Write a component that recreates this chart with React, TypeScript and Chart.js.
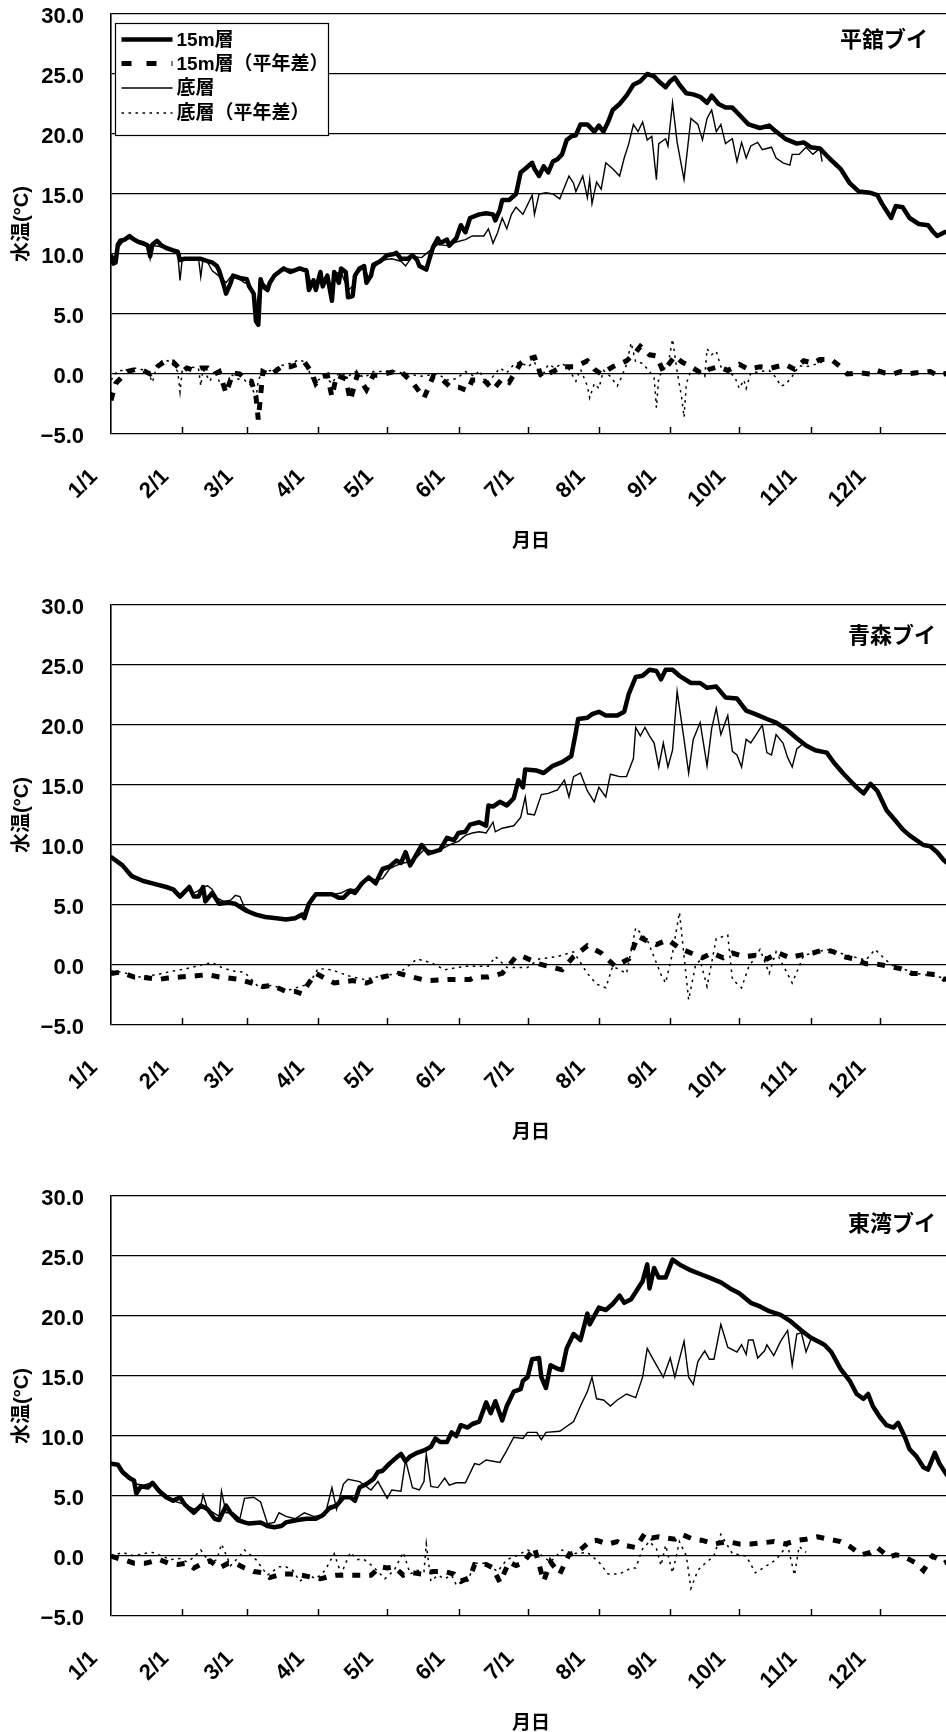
import React, { useEffect, useRef } from "react";
import { Chart, registerables } from "chart.js";

Chart.register(...registerables);

// ---------- axis / label data ----------
const MONTH_STARTS = [0, 31, 59, 90, 120, 151, 181, 212, 243, 273, 304, 334];
const MONTH_LABELS = ["1/1", "2/1", "3/1", "4/1", "5/1", "6/1", "7/1", "8/1", "9/1", "10/1", "11/1", "12/1"];
const Y_TICKS = [-5, 0, 5, 10, 15, 20, 25, 30];
const SERIES_LABELS = ["15m層", "15m層（平年差）", "底層", "底層（平年差）"];
const X_TITLE = "月日";
const Y_TITLE = "水温(°C)";
const STATION_NAMES = ["平舘ブイ", "青森ブイ", "東湾ブイ"];

// ---------- 平舘ブイ ----------
const HIRADATE_15M: [number, number][] = [
  [0, 9.8], [1, 9.2], [2, 9.3], [3, 10.8], [4, 11.1], [6, 11.2], [8, 11.5], [10, 11.2], [12, 11.0], [14, 10.9],
  [16, 10.7], [17, 9.8], [18, 10.8], [20, 11.1], [22, 10.7], [24, 10.5], [27, 10.3], [29, 10.2], [30, 9.5], [32, 9.6],
  [34, 9.6], [39, 9.6], [42, 9.4], [44, 9.3], [46, 9.0], [47, 8.6], [49, 7.4], [50, 6.7], [52, 7.6], [53, 8.2],
  [56, 8.0], [59, 7.9], [60, 7.3], [62, 6.7], [63, 4.4], [64, 4.1], [65, 7.9], [66, 7.3], [68, 7.0], [69, 7.6],
  [71, 8.2], [73, 8.5], [75, 8.8], [78, 8.5], [82, 8.8], [85, 8.6], [86, 7.0], [88, 7.8], [89, 7.0], [91, 8.5],
  [92, 7.3], [94, 8.2], [96, 6.1], [97, 8.5], [99, 7.6], [100, 8.8], [102, 8.5], [103, 6.4], [105, 6.5], [106, 8.2],
  [108, 8.8], [110, 9.0], [111, 7.6], [113, 8.2], [114, 9.1], [117, 9.4], [120, 9.9], [123, 10.0], [124, 10.1], [126, 9.6],
  [129, 9.6], [131, 9.9], [133, 9.5], [134, 9.0], [137, 8.7], [139, 10.0], [140, 10.6], [142, 11.3], [143, 10.9], [146, 11.2],
  [147, 10.7], [150, 11.3], [152, 12.4], [154, 11.8], [156, 13.0], [160, 13.3], [163, 13.4], [166, 13.3], [167, 12.8], [169, 13.7],
  [170, 14.5], [173, 14.5], [176, 15.0], [178, 16.8], [180, 17.1], [183, 17.6], [184, 17.1], [186, 16.5], [188, 17.3], [190, 16.8],
  [192, 17.7], [194, 17.9], [196, 18.3], [198, 19.5], [200, 19.8], [202, 19.9], [204, 20.8], [207, 20.8], [210, 20.2], [212, 20.7],
  [214, 20.2], [216, 21.0], [218, 22.0], [221, 22.5], [224, 23.2], [227, 24.1], [230, 24.4], [233, 25.0], [236, 24.8], [238, 24.4],
  [241, 23.9], [243, 24.4], [245, 24.7], [247, 24.1], [250, 23.4], [253, 23.3], [256, 23.1], [259, 22.6], [261, 23.2], [264, 22.5],
  [267, 22.2], [270, 22.2], [273, 21.6], [277, 20.8], [282, 20.5], [286, 20.7], [289, 20.2], [293, 19.6], [298, 19.2], [301, 19.3],
  [304, 18.9], [308, 18.8], [312, 18.0], [317, 17.1], [321, 15.9], [325, 15.2], [330, 15.1], [333, 14.9], [335, 14.2], [339, 13.0],
  [341, 14.0], [344, 13.9], [347, 13.0], [351, 12.5], [355, 12.4], [357, 11.9], [359, 11.5], [362, 11.8], [364, 11.9],
];
const HIRADATE_BOTTOM: [number, number][] = [
  [0, 10.0], [2, 9.6], [3, 10.5], [5, 11.0], [8, 11.3], [12, 10.9], [16, 10.6], [17, 9.6], [18, 10.7], [22, 10.6],
  [27, 10.3], [29, 10.0], [30, 7.8], [31, 9.7], [34, 9.7], [38, 9.7], [39, 8.1], [40, 9.6], [42, 9.3], [44, 8.6],
  [46, 8.3], [48, 8.0], [50, 7.6], [52, 8.1], [55, 8.0], [58, 7.6], [60, 7.6], [62, 6.8], [63, 5.5], [64, 6.5],
  [65, 7.8], [68, 7.2], [71, 8.3], [75, 8.8], [80, 8.7], [85, 8.8], [87, 7.5], [89, 7.4], [92, 7.8], [94, 8.3],
  [96, 7.0], [98, 8.4], [100, 8.5], [103, 7.0], [105, 7.3], [107, 8.4], [110, 8.9], [112, 8.0], [115, 9.0], [118, 9.5],
  [122, 9.6], [126, 9.4], [128, 9.0], [131, 9.8], [135, 9.7], [138, 10.2], [142, 10.8], [146, 10.7], [150, 11.0], [154, 11.2],
  [157, 11.5], [162, 11.5], [164, 12.1], [166, 10.9], [168, 11.8], [170, 13.0], [172, 12.1], [174, 13.3], [176, 13.9], [179, 13.3],
  [183, 14.9], [184, 13.3], [186, 15.0], [189, 15.1], [192, 15.0], [195, 14.6], [199, 16.5], [201, 15.9], [202, 15.2], [205, 16.5],
  [207, 14.7], [208, 16.2], [209, 14.2], [211, 16.0], [213, 15.4], [215, 17.6], [218, 17.1], [221, 16.5], [223, 18.0], [225, 19.2],
  [227, 20.8], [229, 20.2], [231, 21.0], [233, 19.5], [235, 19.8], [237, 16.2], [238, 19.2], [241, 19.6], [242, 19.0], [244, 22.6],
  [246, 19.3], [249, 16.2], [252, 21.3], [255, 20.8], [257, 19.5], [259, 21.3], [261, 22.0], [263, 20.2], [265, 20.8], [267, 19.2],
  [270, 19.6], [272, 17.7], [274, 19.3], [276, 18.0], [278, 19.0], [281, 19.3], [283, 18.7], [287, 18.9], [289, 18.0], [292, 17.6],
  [295, 17.4], [296, 18.3], [299, 18.3], [302, 18.9], [305, 18.3], [308, 18.8], [309, 17.7],
];
const HIRADATE_15M_ANOM: [number, number][] = [
  [0, -2.2], [2, -0.8], [4, -0.4], [7, 0.2], [11, 0.4], [14, 0.3], [17, 0.0], [20, 0.6], [23, 1.0], [27, 1.0],
  [31, 0.2], [33, 0.5], [36, 0.3], [39, 0.5], [42, 0.5], [45, 0.0], [47, 0.2], [50, -1.6], [53, 0.1], [56, 0.0],
  [59, -0.5], [61, -0.6], [63, -1.9], [64, -3.8], [66, 0.2], [69, -0.1], [74, 0.6], [78, 0.6], [84, 1.0], [87, 0.2],
  [89, -0.8], [92, -0.2], [94, -0.1], [96, -1.9], [98, -0.1], [102, -0.4], [104, -2.2], [107, -0.1], [111, -1.3], [114, -0.1],
  [117, -0.1], [123, 0.2], [126, 0.2], [131, -0.7], [136, -2.0], [140, -0.2], [143, -0.3], [147, -1.0], [151, -1.1], [155, -1.4],
  [157, -0.5], [162, -0.5], [166, -1.3], [170, -0.4], [173, -0.7], [178, 0.9], [180, 1.2], [184, 1.4], [187, -0.2], [192, 0.2],
  [196, 0.6], [201, 0.6], [204, 0.8], [207, 1.1], [210, 0.4], [213, 0.0], [218, 0.6], [224, 1.1], [228, 1.8], [230, 2.3],
  [234, 1.6], [237, 1.5], [240, 0.2], [245, 1.5], [248, 1.0], [252, 0.6], [257, 0.0], [260, 0.4], [264, 0.6], [268, 0.3],
  [273, 0.8], [277, 0.4], [282, 0.6], [287, 0.5], [293, 0.8], [297, 0.4], [301, 1.1], [305, 0.9], [308, 1.2], [313, 1.2],
  [317, 0.6], [320, 0.0], [325, 0.1], [330, 0.0], [333, 0.3], [336, 0.1], [340, 0.0], [343, 0.2], [346, 0.0], [350, 0.1],
  [356, 0.2], [359, -0.1], [362, 0.0], [364, 0.1],
];
const HIRADATE_BOTTOM_ANOM: [number, number][] = [
  [0, -0.5], [3, 0.3], [7, 0.3], [11, 0.5], [16, 0.2], [18, -0.7], [20, 0.8], [23, 1.2], [26, 1.0], [29, 0.2],
  [30, -1.5], [31, 0.4], [34, 0.6], [38, 0.5], [39, -1.0], [40, 0.4], [43, -0.6], [45, 0.3], [47, -0.6], [50, -1.2],
  [52, 0.0], [55, -0.4], [58, -0.5], [61, -1.0], [63, -2.0], [64, -0.5], [66, 0.2], [70, 0.3], [74, 0.7], [78, 0.9],
  [82, 1.2], [85, 0.9], [87, -0.3], [90, -0.5], [93, -0.2], [96, -0.8], [99, 0.1], [103, -0.2], [106, 0.2], [110, -0.3],
  [114, 0.2], [118, 0.2], [122, 0.3], [126, 0.1], [130, 0.0], [134, -0.2], [138, -0.1], [142, 0.0], [146, -0.5], [150, -0.4],
  [154, 0.2], [158, -0.2], [160, 0.3], [163, -0.8], [166, -0.2], [169, 0.5], [172, 0.1], [175, 0.8], [178, 1.0], [181, 0.6],
  [184, 1.0], [187, -0.3], [190, 0.8], [193, 0.5], [196, 0.9], [199, 0.4], [202, -0.6], [204, 0.4], [207, -1.0], [208, -2.0],
  [210, -0.8], [212, -1.2], [214, 0.3], [217, -0.2], [220, -1.0], [222, -0.2], [224, 0.8], [226, 2.6], [228, 1.0], [231, 0.9],
  [234, 0.2], [236, -0.3], [237, -2.8], [238, -0.3], [240, 0.4], [242, 0.7], [244, 2.9], [246, 0.2], [248, -2.0], [249, -3.6],
  [250, -0.8], [252, 0.3], [255, 0.3], [258, -0.2], [259, 2.1], [261, 1.6], [263, 1.9], [265, 0.6], [268, 0.2], [271, -0.2],
  [273, -1.2], [275, -0.5], [276, -1.2], [278, 0.1], [282, 0.2], [286, 0.3], [289, -0.3], [291, -1.0], [293, -0.9], [296, -0.2],
  [299, 0.7], [302, 0.6], [306, 0.8], [309, 1.0],
];

// ---------- 青森ブイ ----------
const AOMORI_15M: [number, number][] = [
  [0, 9.0], [5, 8.3], [9, 7.4], [14, 7.0], [18, 6.8], [24, 6.5], [27, 6.3], [30, 5.7], [34, 6.5], [36, 5.7],
  [38, 5.7], [40, 6.5], [41, 5.3], [44, 6.0], [47, 5.1], [51, 5.2], [54, 5.1], [59, 4.5], [63, 4.2], [67, 4.0],
  [72, 3.9], [76, 3.8], [80, 3.9], [83, 4.2], [84, 3.9], [86, 5.1], [89, 5.9], [92, 5.9], [96, 5.9], [99, 5.6],
  [101, 5.6], [104, 6.2], [106, 6.0], [109, 6.8], [112, 7.3], [115, 6.8], [118, 8.0], [121, 8.2], [124, 8.7], [126, 8.5],
  [128, 9.4], [130, 8.3], [133, 9.3], [135, 10.0], [138, 9.3], [143, 9.6], [146, 10.6], [149, 10.4], [151, 11.0], [154, 11.1],
  [156, 11.7], [160, 11.9], [163, 11.6], [164, 13.3], [166, 13.2], [169, 13.6], [172, 13.3], [175, 13.9], [177, 15.4], [179, 14.8],
  [180, 16.3], [185, 16.2], [188, 16.0], [192, 16.6], [196, 16.9], [200, 17.4], [202, 19.4], [203, 20.5], [207, 20.6], [209, 20.9],
  [212, 21.1], [215, 20.8], [220, 20.8], [223, 21.1], [225, 22.6], [228, 24.0], [231, 24.1], [234, 24.6], [237, 24.5], [239, 23.8],
  [241, 24.6], [244, 24.6], [247, 24.1], [252, 23.5], [256, 23.5], [259, 23.1], [263, 23.2], [267, 22.3], [272, 22.2], [276, 21.2],
  [280, 20.9], [285, 20.5], [289, 20.2], [293, 19.7], [298, 18.9], [302, 18.3], [306, 17.9], [311, 17.7], [314, 16.9], [318, 16.0],
  [321, 15.4], [324, 14.8], [327, 14.3], [330, 15.1], [333, 14.5], [337, 12.9], [341, 12.0], [344, 11.3], [347, 10.8], [353, 10.0],
  [356, 9.9], [359, 9.4], [362, 8.7], [364, 8.4],
];
const AOMORI_BOTTOM: [number, number][] = [
  [0, 9.0], [5, 8.3], [10, 7.4], [15, 7.0], [20, 6.7], [25, 6.4], [28, 6.3], [30, 5.8], [33, 6.3], [36, 6.0],
  [38, 6.2], [40, 6.5], [42, 6.6], [44, 6.3], [46, 5.6], [49, 5.3], [52, 5.4], [54, 5.8], [56, 5.7], [58, 4.8],
  [62, 4.3], [66, 4.1], [70, 3.9], [75, 3.9], [80, 3.9], [83, 4.0], [85, 4.9], [87, 5.6], [90, 6.0], [94, 5.9],
  [97, 5.9], [100, 6.0], [103, 6.3], [106, 6.3], [109, 6.7], [112, 7.2], [115, 7.1], [118, 7.2], [121, 8.0], [124, 8.3],
  [127, 8.5], [130, 8.6], [133, 9.0], [136, 9.6], [140, 9.5], [144, 9.7], [148, 10.1], [151, 10.3], [154, 10.8], [157, 11.0],
  [160, 11.1], [163, 11.0], [166, 11.9], [167, 11.1], [170, 11.4], [175, 11.6], [178, 12.3], [180, 14.0], [181, 12.6], [184, 12.5],
  [187, 14.2], [190, 14.3], [194, 14.6], [197, 15.4], [199, 14.0], [201, 15.7], [204, 16.0], [207, 14.5], [210, 13.6], [212, 14.8],
  [215, 14.0], [217, 15.9], [221, 15.7], [224, 15.7], [227, 17.2], [228, 19.8], [230, 19.1], [232, 19.8], [234, 19.1], [236, 18.5],
  [238, 16.5], [240, 18.5], [242, 16.5], [244, 17.9], [246, 22.8], [249, 18.8], [251, 16.0], [253, 18.8], [256, 20.2], [259, 16.6],
  [261, 19.7], [263, 21.4], [265, 19.2], [268, 20.8], [270, 17.8], [272, 17.5], [274, 16.5], [276, 18.8], [278, 18.5], [280, 19.1],
  [283, 20.0], [285, 17.7], [287, 17.5], [289, 19.2], [292, 18.5], [294, 17.3], [296, 16.5], [298, 18.0], [301, 18.5],
];
const AOMORI_15M_ANOM: [number, number][] = [
  [0, -0.7], [4, -0.6], [10, -1.0], [13, -1.0], [21, -1.2], [24, -1.1], [30, -1.0], [37, -0.9], [42, -0.8], [47, -1.0],
  [56, -1.2], [66, -1.8], [70, -1.7], [76, -2.2], [80, -2.2], [83, -2.4], [86, -1.5], [89, -0.7], [97, -1.5], [105, -1.3],
  [111, -1.5], [118, -1.0], [125, -0.7], [131, -1.0], [137, -1.3], [147, -1.2], [156, -1.2], [158, -1.0], [164, -1.0], [170, -0.7],
  [176, 0.7], [179, 0.7], [186, 0.1], [196, -0.4], [201, 0.7], [207, 1.6], [213, 1.0], [219, -0.1], [225, 0.5], [229, 2.4],
  [233, 2.0], [237, 1.7], [242, 2.1], [247, 1.4], [252, 1.0], [257, 0.6], [261, 1.0], [266, 0.6], [270, 1.0], [275, 0.7],
  [280, 0.8], [285, 0.5], [290, 1.0], [295, 0.6], [299, 0.8], [305, 1.0], [310, 1.3], [314, 1.1], [318, 0.7], [323, 0.5],
  [328, 0.1], [332, 0.1], [338, -0.1], [343, -0.3], [348, -0.7], [353, -0.7], [358, -0.8], [362, -1.2], [364, -1.1],
];
const AOMORI_BOTTOM_ANOM: [number, number][] = [
  [0, -0.5], [5, -0.6], [12, -1.0], [20, -0.8], [27, -0.5], [33, -0.3], [39, 0.0], [44, 0.2], [48, -0.2], [53, -0.5],
  [58, -0.6], [64, -1.8], [70, -1.7], [77, -2.1], [82, -1.8], [86, -1.6], [90, -0.3], [96, -0.4], [103, -0.9], [110, -1.2],
  [118, -0.9], [125, -0.7], [133, 0.5], [139, 0.2], [145, -0.4], [154, -0.1], [158, -0.1], [164, -0.1], [167, 0.7], [172, -0.2],
  [181, -0.2], [186, 0.5], [194, 0.7], [201, 1.1], [207, -0.7], [211, -1.6], [215, -1.9], [218, -0.1], [224, -0.7], [228, 3.1],
  [233, 2.1], [239, -0.8], [241, -1.5], [244, 1.0], [247, 4.4], [251, -2.9], [254, 0.0], [256, 0.4], [259, -1.8], [263, 2.2],
  [268, 2.5], [270, -1.2], [274, -1.9], [277, -0.2], [282, 1.3], [286, -0.7], [289, 1.1], [296, -1.5], [301, 0.8], [311, 1.3],
  [328, 0.4], [332, 1.3], [339, 0.0], [350, -0.7], [360, -1.0], [364, -1.2],
];

// ---------- 東湾ブイ ----------
const TOWAN_15M: [number, number][] = [
  [0, 7.7], [3, 7.6], [5, 7.0], [8, 6.5], [10, 6.3], [11, 5.2], [13, 5.8], [16, 5.7], [18, 6.1], [21, 5.4],
  [24, 4.9], [27, 4.6], [30, 4.9], [32, 4.3], [36, 3.6], [39, 4.2], [42, 3.9], [45, 3.1], [47, 3.0], [50, 4.2],
  [52, 3.6], [55, 3.0], [58, 2.8], [60, 2.7], [65, 2.8], [68, 2.5], [71, 2.4], [74, 2.5], [76, 2.8], [81, 3.0],
  [85, 3.1], [89, 3.1], [92, 3.4], [95, 4.0], [98, 4.2], [101, 4.9], [104, 4.9], [106, 4.6], [108, 5.7], [111, 6.0],
  [114, 6.4], [116, 7.0], [118, 7.1], [121, 7.7], [124, 8.2], [126, 8.5], [128, 7.9], [130, 8.3], [133, 8.6], [136, 8.8],
  [139, 9.1], [141, 9.8], [143, 9.5], [146, 9.5], [148, 10.3], [150, 10.0], [152, 10.9], [155, 10.7], [157, 11.0], [160, 11.2],
  [163, 12.8], [165, 11.9], [167, 12.9], [170, 11.3], [172, 12.5], [175, 13.7], [178, 13.9], [179, 14.6], [181, 14.9], [183, 16.4],
  [186, 16.5], [187, 14.9], [189, 14.0], [191, 15.9], [194, 15.6], [196, 15.5], [198, 17.3], [201, 18.5], [204, 18.0], [207, 20.2],
  [208, 19.3], [212, 20.7], [215, 20.5], [218, 21.0], [221, 21.7], [223, 21.1], [226, 21.4], [228, 22.0], [231, 22.9], [233, 24.3],
  [234, 22.3], [236, 24.0], [238, 23.2], [241, 23.2], [244, 24.7], [247, 24.3], [252, 23.8], [256, 23.5], [260, 23.2], [265, 22.8],
  [269, 22.3], [273, 21.9], [278, 21.1], [282, 20.8], [286, 20.4], [291, 20.1], [295, 19.6], [300, 18.8], [304, 18.2], [310, 17.6],
  [313, 17.0], [317, 15.6], [321, 14.6], [324, 13.5], [327, 13.1], [329, 13.5], [331, 12.5], [334, 11.6], [337, 10.9], [340, 10.7],
  [342, 11.1], [345, 9.9], [347, 8.9], [350, 8.3], [353, 7.4], [355, 7.2], [358, 8.6], [360, 7.7], [363, 6.8], [364, 6.6],
];
const TOWAN_BOTTOM: [number, number][] = [
  [0, 7.7], [3, 7.6], [5, 7.0], [8, 6.6], [11, 6.0], [14, 5.9], [18, 6.1], [22, 5.4], [27, 4.6], [32, 4.3],
  [36, 3.9], [39, 4.2], [40, 5.1], [42, 3.9], [47, 3.3], [48, 5.4], [50, 3.6], [53, 3.6], [56, 3.1], [58, 4.8],
  [62, 4.9], [65, 4.5], [68, 2.7], [71, 2.8], [73, 3.6], [76, 3.3], [80, 3.1], [84, 3.6], [88, 3.3], [93, 3.4],
  [96, 5.7], [98, 3.9], [101, 6.0], [103, 6.4], [108, 6.2], [113, 5.5], [116, 6.2], [120, 4.8], [122, 5.5], [126, 5.4],
  [128, 8.0], [131, 5.7], [134, 5.5], [136, 6.2], [137, 8.5], [139, 5.8], [142, 5.7], [145, 6.5], [147, 5.9], [150, 6.1],
  [154, 6.1], [157, 7.3], [158, 7.7], [160, 7.6], [163, 8.0], [169, 7.8], [172, 8.8], [175, 9.9], [179, 9.8], [181, 10.3],
  [185, 10.3], [187, 9.7], [189, 10.3], [195, 10.4], [201, 11.2], [204, 12.5], [207, 13.7], [209, 14.9], [211, 13.1], [214, 13.0],
  [217, 12.5], [220, 13.0], [224, 13.5], [228, 13.2], [231, 14.9], [233, 17.3], [235, 16.6], [237, 15.9], [240, 14.9], [243, 16.5],
  [245, 14.9], [249, 17.9], [251, 14.9], [253, 14.3], [255, 16.2], [258, 17.1], [260, 16.4], [262, 16.4], [265, 19.3], [268, 17.4],
  [272, 17.0], [274, 17.6], [276, 16.8], [277, 18.0], [279, 18.0], [281, 16.5], [284, 17.1], [285, 17.6], [288, 16.7], [291, 17.9],
  [294, 18.8], [296, 15.9], [298, 18.5], [300, 18.6], [302, 17.0], [304, 18.0],
];
const TOWAN_15M_ANOM: [number, number][] = [
  [0, 0.0], [3, -0.2], [7, -0.4], [10, -0.6], [15, -0.6], [21, -0.3], [25, -0.6], [29, -0.7], [33, -0.6], [36, -1.0],
  [40, -0.6], [43, -0.4], [47, -1.0], [51, -0.6], [55, -0.7], [58, -1.0], [62, -1.3], [66, -1.4], [69, -1.8], [74, -1.5],
  [78, -1.5], [83, -1.6], [88, -1.8], [91, -1.9], [95, -1.7], [98, -1.6], [103, -1.6], [107, -1.6], [113, -1.6], [117, -0.9],
  [120, -1.0], [123, -0.9], [127, -1.6], [131, -1.4], [135, -1.5], [140, -1.3], [145, -1.3], [149, -1.5], [152, -2.1], [156, -1.8],
  [158, -0.7], [163, -0.7], [166, -1.0], [169, -2.2], [173, -0.5], [176, -0.8], [179, -0.6], [184, 0.7], [188, -2.1], [191, -0.5],
  [195, -1.5], [199, 0.1], [203, 0.4], [205, 0.7], [208, 1.2], [211, 1.3], [216, 1.0], [220, 1.2], [223, 0.9], [228, 0.7],
  [232, 1.9], [235, 1.5], [238, 1.6], [241, 1.5], [245, 1.4], [248, 1.8], [253, 1.4], [257, 1.3], [262, 1.0], [268, 1.2],
  [273, 1.0], [278, 1.0], [283, 1.1], [288, 1.2], [293, 1.0], [298, 1.3], [302, 1.4], [307, 1.6], [312, 1.4], [317, 1.2],
  [321, 0.8], [326, 0.1], [330, 0.3], [333, 0.7], [338, -0.1], [341, 0.1], [344, 0.0], [347, -0.3], [350, -0.6], [353, -1.2],
  [357, 0.0], [360, -0.3], [362, -0.6], [364, -0.4],
];
const TOWAN_BOTTOM_ANOM: [number, number][] = [
  [0, 0.0], [5, 0.3], [10, 0.0], [14, 0.2], [18, 0.3], [22, 0.0], [26, -0.3], [30, -0.2], [33, -0.5], [36, -0.1],
  [39, 0.5], [43, -0.6], [46, -0.3], [48, 1.0], [52, -0.8], [55, -0.2], [58, 0.5], [63, -0.3], [68, -1.6], [73, -0.9],
  [76, -0.9], [79, -1.2], [82, -2.1], [86, -1.6], [89, -1.9], [93, -1.2], [97, 0.2], [100, -1.5], [104, 0.3], [107, -0.3],
  [110, -0.3], [114, -0.9], [119, -1.9], [123, -1.2], [127, 0.3], [130, -1.5], [133, -1.2], [136, -1.3], [137, 1.0], [139, -2.1],
  [142, -1.6], [145, -1.9], [148, -1.6], [150, -2.4], [155, -2.1], [158, -0.6], [163, -0.6], [168, -1.3], [172, -0.3], [176, 0.0],
  [181, 0.5], [186, 0.2], [191, -0.5], [196, 0.5], [201, 0.2], [207, 0.3], [212, -0.5], [216, -1.5], [221, -1.5], [226, -1.0],
  [228, -1.0], [231, 0.6], [234, 1.2], [237, 0.6], [239, -0.8], [241, 0.9], [244, -1.4], [247, 1.2], [250, 0.0], [252, -2.7],
  [255, -1.2], [257, -0.8], [262, 0.0], [265, 1.8], [270, 0.2], [276, 0.0], [280, -1.4], [285, -0.8], [289, -0.3], [294, 0.9],
  [297, -1.6], [299, 0.8], [302, 0.3],
];

// ---------- styling ----------
const FONT_FAMILY = '"Liberation Sans", Arial, "Noto Sans CJK JP", sans-serif';
const CANVAS_W = 953;
const CANVAS_H = 591;
const AREA_TOP = 14;
const AREA_H = 420;
const Y_AXIS_W = 111;

type Pts = [number, number][];

interface PanelProps {
  name: string;
  nameRight: number;
  nameDy: number;
  top: number;
  s15: Pts;
  sBot: Pts;
  a15: Pts;
  aBot: Pts;
  showLegend: boolean;
}

const toPts = (arr: Pts) => arr.map(([x, y]) => ({ x, y }));

function Panel(props: PanelProps) {
  const ref = useRef<HTMLCanvasElement | null>(null);

  useEffect(() => {
    const canvas = ref.current;
    if (!canvas) return;

    const decor = {
      id: "decor",
      afterDraw(chart: any) {
        const ctx = chart.ctx as CanvasRenderingContext2D;
        const area = chart.chartArea;
        const xs = chart.scales.x;
        ctx.save();
        // inward tick marks on the bottom axis
        ctx.strokeStyle = "#000";
        ctx.lineWidth = 1.5;
        MONTH_STARTS.slice(1).forEach((v) => {
          const px = Math.round(xs.getPixelForValue(v)) + 0.5;
          ctx.beginPath();
          ctx.moveTo(px, area.bottom);
          ctx.lineTo(px, area.bottom - 7);
          ctx.stroke();
        });
        // station name
        ctx.fillStyle = "#000";
        ctx.font = `bold 22px ${FONT_FAMILY}`;
        ctx.textAlign = "right";
        ctx.textBaseline = "middle";
        ctx.fillText(props.name, props.nameRight, area.top + props.nameDy);

        if (props.showLegend) {
          const bx = area.left + 4.5;
          const by = area.top + 9.5;
          const bw = 213;
          const bh = 112;
          ctx.fillStyle = "#fff";
          ctx.fillRect(bx, by, bw, bh);
          ctx.strokeStyle = "#000";
          ctx.lineWidth = 1.2;
          ctx.setLineDash([]);
          ctx.strokeRect(bx, by, bw, bh);
          const rows = [16, 40, 64.5, 89.5];
          const legendDash = [[], [10, 15], [], [2.5, 4.5]];
          chart.data.datasets.forEach((ds: any, i: number) => {
            const cy = by + rows[i];
            ctx.strokeStyle = "#000";
            ctx.lineWidth = ds.borderWidth;
            ctx.setLineDash(legendDash[i]);
            ctx.lineCap = "butt";
            ctx.beginPath();
            ctx.moveTo(bx + 6, cy);
            ctx.lineTo(bx + 57, cy);
            ctx.stroke();
            ctx.setLineDash([]);
            ctx.fillStyle = "#000";
            ctx.font = `bold 19px ${FONT_FAMILY}`;
            ctx.textAlign = "left";
            ctx.textBaseline = "middle";
            ctx.fillText(ds.label, bx + 61, cy + 1);
          });
        }
        ctx.restore();
      },
    };

    const chart = new Chart(canvas, {
      type: "line",
      data: {
        datasets: [
          {
            label: SERIES_LABELS[0],
            data: toPts(props.s15),
            borderColor: "#000",
            borderWidth: 4.5,
            pointRadius: 0,
            tension: 0,
            borderJoinStyle: "round",
            borderCapStyle: "round",
          },
          {
            label: SERIES_LABELS[1],
            data: toPts(props.a15),
            borderColor: "#000",
            borderWidth: 5,
            borderDash: [8, 9],
            pointRadius: 0,
            tension: 0,
          },
          {
            label: SERIES_LABELS[2],
            data: toPts(props.sBot),
            borderColor: "#000",
            borderWidth: 1.4,
            pointRadius: 0,
            tension: 0,
          },
          {
            label: SERIES_LABELS[3],
            data: toPts(props.aBot),
            borderColor: "#000",
            borderWidth: 1.5,
            borderDash: [2.5, 4.5],
            pointRadius: 0,
            tension: 0,
          },
        ],
      } as any,
      options: {
        responsive: false,
        maintainAspectRatio: false,
        animation: false,
        devicePixelRatio: 1,
        layout: { padding: { top: AREA_TOP, left: 0, right: 2, bottom: 0 } },
        plugins: {
          legend: { display: false },
          tooltip: { enabled: false },
        },
        scales: {
          x: {
            type: "linear",
            min: 0,
            max: 365,
            afterBuildTicks: (s: any) => {
              s.ticks = MONTH_STARTS.map((v) => ({ value: v }));
            },
            afterFit: (s: any) => {
              s.height = CANVAS_H - AREA_TOP - AREA_H;
              s.paddingLeft = 0;
              s.paddingRight = 0;
            },
            grid: { display: false, drawTicks: false, tickLength: 0 },
            border: { display: false },
            ticks: {
              autoSkip: false,
              maxRotation: 45,
              minRotation: 45,
              padding: 30,
              labelOffset: -17,
              color: "#000",
              font: { family: FONT_FAMILY, size: 22, weight: "bold" },
              callback: (v: any) => {
                const i = MONTH_STARTS.indexOf(Number(v));
                return i >= 0 ? MONTH_LABELS[i] : "";
              },
            },
            title: {
              display: true,
              text: X_TITLE,
              color: "#000",
              font: { family: FONT_FAMILY, size: 19, weight: "bold" },
              padding: { top: 0, bottom: 38 },
            },
          },
          y: {
            min: -5,
            max: 30,
            afterBuildTicks: (s: any) => {
              s.ticks = Y_TICKS.map((v) => ({ value: v }));
            },
            afterFit: (s: any) => {
              s.width = Y_AXIS_W;
              s.paddingTop = 0;
              s.paddingBottom = 0;
            },
            grid: { color: "#000", lineWidth: 1.2, drawTicks: false, tickLength: 0 },
            border: { display: true, color: "#000", width: 1.6 },
            ticks: {
              padding: 27,
              labelOffset: 3,
              color: "#000",
              font: { family: FONT_FAMILY, size: 22, weight: "bold" },
              callback: (v: any) => {
                const n = Number(v);
                return n < 0 ? "\u2212" + Math.abs(n).toFixed(1) : n.toFixed(1);
              },
            },
            title: {
              display: true,
              text: Y_TITLE,
              color: "#000",
              font: { family: FONT_FAMILY, size: 20, weight: "bold" },
              padding: { top: 10, bottom: 0 },
            },
          },
        },
      } as any,
      plugins: [decor],
    });

    return () => chart.destroy();
  }, []);

  return (
    <canvas
      ref={ref}
      width={CANVAS_W}
      height={CANVAS_H}
      style={{ position: "absolute", left: 0, top: props.top, width: CANVAS_W, height: CANVAS_H, display: "block" }}
    />
  );
}

export default function App() {
  return (
    <div
      style={{
        position: "absolute",
        left: 0,
        top: 0,
        width: 946,
        height: 1732,
        overflow: "hidden",
        background: "#fff",
      }}
    >
      <Panel
        name={STATION_NAMES[0]}
        nameRight={928}
        nameDy={27}
        top={0}
        s15={HIRADATE_15M}
        sBot={HIRADATE_BOTTOM}
        a15={HIRADATE_15M_ANOM}
        aBot={HIRADATE_BOTTOM_ANOM}
        showLegend={true}
      />
      <Panel
        name={STATION_NAMES[1]}
        nameRight={936}
        nameDy={32}
        top={591}
        s15={AOMORI_15M}
        sBot={AOMORI_BOTTOM}
        a15={AOMORI_15M_ANOM}
        aBot={AOMORI_BOTTOM_ANOM}
        showLegend={false}
      />
      <Panel
        name={STATION_NAMES[2]}
        nameRight={936}
        nameDy={29}
        top={1182}
        s15={TOWAN_15M}
        sBot={TOWAN_BOTTOM}
        a15={TOWAN_15M_ANOM}
        aBot={TOWAN_BOTTOM_ANOM}
        showLegend={false}
      />
    </div>
  );
}
